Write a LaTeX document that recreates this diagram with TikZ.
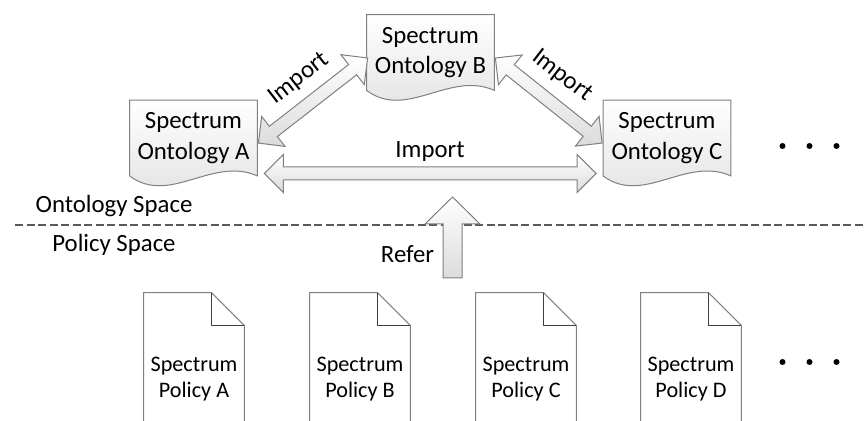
\documentclass[tikz,border=0pt]{standalone}
\usepackage{fontspec}
\setmainfont{Carlito}
\usetikzlibrary{calc,backgrounds}
\definecolor{lineg}{HTML}{808080}
\definecolor{darkg}{HTML}{404040}
\definecolor{dashg}{HTML}{595959}
\tikzset{
  ontobox/.style={minimum width=63.5pt, minimum height=37.5pt, inner sep=0pt, align=center,
    font=\fontsize{12.4}{15.25}\selectfont},
  ontofill/.style={draw=lineg, line width=0.5pt, top color=white, bottom color=black!12},
  polnode/.style={minimum width=50pt, minimum height=86pt, inner sep=0pt, align=center,
    font=\fontsize{11.1}{13}\selectfont},
  poldraw/.style={draw=lineg, line width=0.5pt, fill=white},
  folddraw/.style={draw=darkg, line width=0.8pt},
  arrowbody/.style={draw=lineg, line width=0.5pt, top color=white, bottom color=black!14},
  lbl/.style={inner sep=0pt, font=\fontsize{12.4}{15}\selectfont},
  sepline/.style={draw=dashg, line width=1pt, dash pattern=on 4pt off 1.75pt},
  dotnode/.style={circle, fill=black, inner sep=0pt, minimum size=3pt}
}
\newcommand\ontoshape[1]{%
  \path[ontofill] (#1.north west) -- (#1.north east) -- (#1.south east)
    .. controls ($(#1.south east)+(-45,-20)$) and ($(#1.south west)+(40,30)$) .. (#1.south west) -- cycle;}
\newcommand\polshape[1]{%
  \path[poldraw] (#1.south west) -- (#1.north west) -- ($(#1.north east)+(-33,0)$)
    -- ($(#1.north east)+(0,33)$) -- (#1.south east);
  \draw[folddraw] ($(#1.north east)+(-33,0)$) -- ($(#1.north east)+(-33,33)$) -- ($(#1.north east)+(0,33)$);}
\newcommand\dblarrow[2]{%
  \coordinate (m1) at ($(#1)!9.5pt!(#2)$);
  \coordinate (m2) at ($(#2)!9.5pt!(#1)$);
  \path[arrowbody] (#1)
    -- ($(m1)!9.5pt!90:(#2)$) -- ($(m1)!3.25pt!90:(#2)$)
    -- ($(m2)!3.25pt!-90:(#1)$) -- ($(m2)!9.5pt!-90:(#1)$)
    -- (#2)
    -- ($(m2)!9.5pt!90:(#1)$) -- ($(m2)!3.25pt!90:(#1)$)
    -- ($(m1)!3.25pt!-90:(#2)$) -- ($(m1)!9.5pt!-90:(#2)$)
    -- cycle;}
\begin{document}
\begin{tikzpicture}[x=0.5pt,y=-0.5pt]
\useasboundingbox (0,0) rectangle (864,421);
\clip (0,0) rectangle (864,421);
% ontology nodes
\node[ontobox] (oA) at (193.5,138) {Spectrum\\Ontology A};
\node[ontobox] (oB) at (430.5,52.5) {Spectrum\\Ontology B};
\node[ontobox] (oC) at (667,138) {Spectrum\\Ontology C};
% policies
\node[polnode] (pA) at (194,379) {Spectrum\\Policy A};
\node[polnode] (pB) at (360,379) {Spectrum\\Policy B};
\node[polnode] (pC) at (526,379) {Spectrum\\Policy C};
\node[polnode] (pD) at (691,379) {Spectrum\\Policy D};
\begin{scope}[on background layer]
  % separator
  \coordinate (sepL) at (15,225);
  \coordinate (sepR) at (864,225);
  \draw[sepline] (sepL) -- (sepR);
  \ontoshape{oA}
  \ontoshape{oB}
  \ontoshape{oC}
  \polshape{pA}
  \polshape{pB}
  \polshape{pC}
  \polshape{pD}
\end{scope}
% arrows
\coordinate (hA) at ($(oA.east)+(7,35.5)$);
\coordinate (hC) at ($(oC.west)+(-7,35.5)$);
\dblarrow{hA}{hC}
\coordinate (abA) at ($(oA.north east)+(1,43)$);
\coordinate (abB) at ($(oB.west)+(1,5.5)$);
\dblarrow{abA}{abB}
\coordinate (bcB) at ($(oB.east)+(1,5.5)$);
\coordinate (bcC) at ($(oC.north west)+(-1,43)$);
\dblarrow{bcB}{bcC}
\node[lbl, anchor=base] (imH) at (430,158) {Import};
\node[lbl, rotate=37.7] (imAB) at (299,79) {Import};
\node[lbl, rotate=-37.7] (imBC) at (562,76) {Import};
% refer arrow
\coordinate (rt) at (452.5,197);
\coordinate (rb) at (452.5,278);
\path[arrowbody] (rt) -- ($(rt)+(27.5,27)$) -- ($(rt)+(9.5,27)$) -- ($(rb)+(9.5,0)$)
  -- ($(rb)+(-9.5,0)$) -- ($(rt)+(-9.5,27)$) -- ($(rt)+(-27.5,27)$) -- cycle;
\node[lbl, anchor=base] (refer) at (407.5,263) {Refer};
% space labels
\node[lbl, anchor=base] (osp) at (114,213) {Ontology Space};
\node[lbl, anchor=base] (psp) at (114,252) {Policy Space};
% dots
\node[dotnode] (d1) at (782.5,146) {};
\node[dotnode] (d2) at (809.5,146) {};
\node[dotnode] (d3) at (836.5,146) {};
\node[dotnode] (d4) at (782.5,362) {};
\node[dotnode] (d5) at (809.5,362) {};
\node[dotnode] (d6) at (836.5,362) {};
\end{tikzpicture}
\end{document}
